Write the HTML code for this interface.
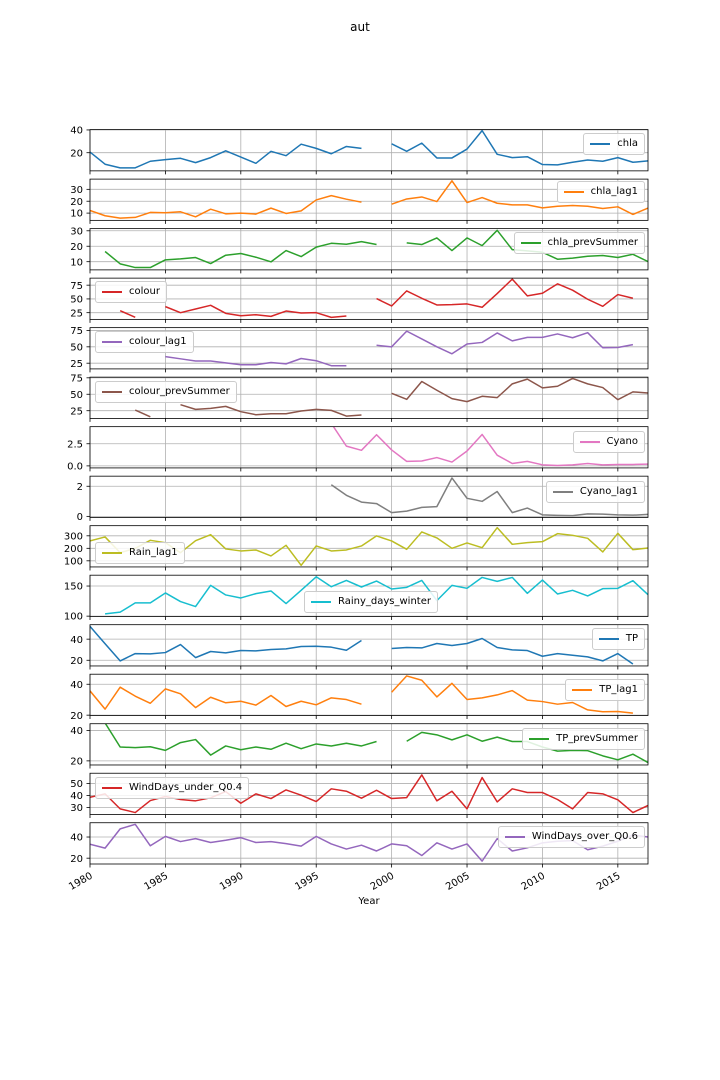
<!DOCTYPE html>
<html><head><meta charset="utf-8"><title>aut</title>
<style>
body{margin:0;background:#fff;}
#wrap{position:relative;width:720px;height:1080px;overflow:hidden;font-family:"DejaVu Sans","Liberation Sans",sans-serif;}
svg{position:absolute;left:0;top:0;}
.leg{position:absolute;background:rgba(255,255,255,0.85);border:1px solid #ccc;border-radius:3px;font-size:10px;color:#000;padding:4px 6px 4px 6px;white-space:nowrap;display:flex;align-items:center;height:12px;line-height:12px;}
.leg .sw{display:inline-block;width:20px;height:2px;margin-right:7px;}
</style></head>
<body>
<div id="wrap">
<svg id="chart" width="720" height="1080" xmlns="http://www.w3.org/2000/svg"></svg>
</div>
<script>
const years = [1980,1981,1982,1983,1984,1985,1986,1987,1988,1989,1990,1991,1992,1993,1994,1995,1996,1997,1998,1999,2000,2001,2002,2003,2004,2005,2006,2007,2008,2009,2010,2011,2012,2013,2014,2015,2016,2017];
const xTicks = [1980,1985,1990,1995,2000,2005,2010,2015];
const seriesNames = ["chla","chla_lag1","chla_prevSummer","colour","colour_lag1","colour_prevSummer","Cyano","Cyano_lag1","Rain_lag1","Rainy_days_winter","TP","TP_lag1","TP_prevSummer","WindDays_under_Q0.4","WindDays_over_Q0.6"];
const chla = [20.6,9.9,6.7,6.7,12.5,13.9,15.1,11.3,15.7,21.7,16.2,10.7,21.2,17.4,27.5,23.8,19.1,25.5,23.8,null,27.8,21.2,28.4,15.4,15.4,23.2,39.4,18.6,15.7,16.5,9.6,9.3,11.6,13.6,12.5,15.7,11.6,12.8];
const chla_lag1 = [12.2,7.8,5.8,6.4,10.6,10.3,11.1,6.9,13.3,9.4,10,9.2,14.2,9.7,11.9,21.1,24.7,21.7,19.2,null,17.5,21.9,23.6,19.7,37.2,18.9,23.1,18.3,16.9,16.9,14.4,15.8,16.4,15.8,13.9,15.3,8.9,14.2];
const chla_prevSummer = [null,16.6,8.6,6.2,6.2,11.2,11.8,12.7,8.8,14.2,15.3,12.9,9.9,17.2,13.3,19.4,21.9,21.3,23,21.1,null,22.2,21.1,25.4,17.2,25.4,20.4,30.3,17.8,17,16.1,11.6,12.3,13.5,14,12.7,14.8,10.1];
const colour = [null,null,28.7,16.5,null,36,25,31.7,38.4,23.8,19.5,21.3,18.3,28,24.4,25,16.5,18.9,null,50.6,37.2,64.6,51.2,39,39.6,40.9,34.8,59.8,86,55.5,60.4,77.4,65.9,49.4,36.6,57.9,51.2,null];
const colour_lag1 = [null,null,null,null,null,35.1,31.7,28.4,28.4,25.5,22.6,22.6,26,24,32.2,28.8,21.2,21.2,null,52.4,50,74,62,50,39.4,54.3,56.7,71.2,59.1,64.4,64.4,69.7,63.9,71.6,48.6,49,53.4,null];
const colour_prevSummer = [null,null,null,26,15.8,null,34.2,27,28.6,31.6,23.5,18.9,20.4,20.4,24.5,27,25.5,16.8,18.4,null,51.5,42.3,69.4,56.1,43.4,38.8,46.9,44.9,65.8,73,59.7,62.2,74,65.8,60.2,41.8,53.6,52];
const Cyano = [null,null,null,null,null,null,null,null,null,null,null,null,null,null,null,null,4.8,2.23,1.76,3.52,1.8,0.51,0.55,0.94,0.43,1.68,3.55,1.21,0.27,0.51,0.12,0.04,0.12,0.27,0.12,0.16,0.16,0.2];
const Cyano_lag1 = [null,null,null,null,null,null,null,null,null,null,null,null,null,null,null,null,2.1,1.4,0.95,0.85,0.25,0.35,0.6,0.65,2.55,1.2,1.0,1.65,0.25,0.55,0.1,0.07,0.05,0.17,0.15,0.1,0.08,0.13];
const Rain_lag1 = [259,291,165,200,264,245,165,261,309,195,179,187,139,224,64,219,179,187,219,299,259,192,331,283,200,243,205,365,232,245,253,317,304,280,171,320,189,203];
const Rainy_days_winter = [null,103.8,106.6,122,122,138.5,124.2,115.9,151.1,135.2,130.2,137.4,141.8,120.9,142.9,165.4,148.9,159.3,148.4,158.2,145.1,147.8,159.3,125.8,151.1,146.2,164.3,157.7,164.3,137.9,159.9,136.8,142.9,133.5,145.6,146.2,158.8,135.7];
const TP = [52.1,35.6,19.4,26.3,26,27.3,34.9,22.5,28.3,27,29.2,28.9,30.2,30.8,33,33.3,32.4,29.5,38.7,null,31.1,32.1,31.7,35.9,34,35.9,40.6,32.1,29.8,29.2,23.8,26.3,24.8,23.2,19.4,26.3,16.5,null];
const TP_lag1 = [35.7,23.9,38.1,32.3,27.7,37,33.8,24.9,31.6,28,29,26.5,32.7,25.6,29,26.7,31.2,30.1,27.1,null,34.8,45.4,42.6,31.8,40.6,30.1,31.2,33.1,35.9,29.7,28.8,27.1,28.2,23.4,22.2,22.4,21.3,null];
const TP_prevSummer = [null,44.9,29.1,28.7,29.3,26.9,32,34,23.8,29.8,27.3,29.1,27.6,31.6,28,31.1,29.8,31.6,29.8,32.7,null,32.9,38.7,37.1,33.8,37.1,32.9,35.6,32.7,32.7,29.1,26.4,26.9,26.7,23.3,20.7,24.4,18.9];
const WindDays_under = [38.6,41.4,28.9,25.8,35.8,39.2,36.7,35.6,38.1,43.3,33.6,41.4,37.5,44.7,40.3,35,45.6,43.6,37.8,44.4,37.5,38.3,57.2,35.6,43.6,28.9,55,34.7,45.6,42.5,42.5,36.7,28.9,42.5,41.4,36.4,25.8,31.7];
const WindDays_over = [33.2,29.5,47.7,52,31.7,40.6,35.7,38.5,34.8,36.9,39.4,34.8,35.7,33.8,31.4,40.6,33.5,28.6,32.3,26.8,33.5,31.7,22.5,34.5,28.6,33.5,17.2,38.5,26.8,29.8,34.5,36,36.6,28,31.4,36,42,40];
const yTickVals = [[20,40],[10,20,30],[10,20,30],[25,50,75],[25,50,75],[25,50,75],[0,2.5],[0,2],[100,200,300],[100,150],[20,40],[20,40],[20,40],[30,40,50],[20,40]];
const yTickLabels = [["20","40"],["10","20","30"],["10","20","30"],["25","50","75"],["25","50","75"],["25","50","75"],["0.0","2.5"],["0","2"],["100","200","300"],["100","150"],["20","40"],["20","40"],["20","40"],["30","40","50"],["20","40"]];
const yMins = [4.06,3.9,4.7,12.8,16.3,13.3,-0.23,-0.07,51,99.5,14.6,19.8,17.3,24.2,14.5];
const yMaxs = [40.3,38.6,31.4,87.8,79.3,76,4.43,2.67,381,168,53.7,46.5,44.4,58.6,53.5];

const seriesData = [chla,chla_lag1,chla_prevSummer,colour,colour_lag1,colour_prevSummer,Cyano,Cyano_lag1,Rain_lag1,Rainy_days_winter,TP,TP_lag1,TP_prevSummer,WindDays_under,WindDays_over];
const colors = ["#1f77b4","#ff7f0e","#2ca02c","#d62728","#9467bd","#8c564b","#e377c2","#7f7f7f","#bcbd22","#17becf","#1f77b4","#ff7f0e","#2ca02c","#d62728","#9467bd"];
// legend layout: [side, anchor-x, top]
const legPos = [["r",645,133],["r",645,181],["r",645,232],["l",95,281],["l",95,331],["l",95,381],["r",645,431],["r",645,481],["l",95,542],["l",304,591],["r",645,628],["r",645,679],["r",645,728],["l",95,777],["r",645,826]];

const NS = "http://www.w3.org/2000/svg";
const svg = document.getElementById("chart");
const wrap = document.getElementById("wrap");
const L = 90, R = 648, TOP = 129.6, BOT = 864;
const N = 15;
const H = (BOT - TOP) / (N + (N - 1) * 0.2);
const GAP = H * 0.2;
const xMin = 1980, xMax = 2017;
function xScale(v){ return L + (v - xMin) / (xMax - xMin) * (R - L); }
function mk(tag, attrs){ const e = document.createElementNS(NS, tag); for (const k in attrs) e.setAttribute(k, attrs[k]); return e; }

const defs = mk("defs", {});
svg.appendChild(defs);

const title = mk("text", {x: 360, y: 31, "text-anchor": "middle", "font-size": "12", "font-family": "DejaVu Sans, Liberation Sans, sans-serif"});
title.textContent = "aut";


svg.appendChild(title);

for (let i = 0; i < N; i++) {
  const top = TOP + i * (H + GAP);
  const bot = top + H;
  const y0 = yMins[i], y1 = yMaxs[i];
  const yScale = v => bot - (v - y0) / (y1 - y0) * H;
  const g = mk("g", {});
  
  
  svg.appendChild(g);
  const cp = mk("clipPath", {id: "cp" + i});
  cp.appendChild(mk("rect", {x: L, y: top, width: R - L, height: H}));
  defs.appendChild(cp);
  // grid x
  xTicks.forEach(t => {
    const x = xScale(t);
    const gl = mk("line", {x1: x, x2: x, y1: top, y2: bot, stroke: "#b0b0b0", "stroke-width": 0.8});
    
    
    g.appendChild(gl);
    const tk = mk("line", {x1: x, x2: x, y1: bot, y2: bot + 3.5, stroke: "#000", "stroke-width": 0.8});
    
    
    g.appendChild(tk);
  });
  // grid y + labels
  yTickVals[i].forEach((t, j) => {
    const y = yScale(t);
    const gl = mk("line", {x1: L, x2: R, y1: y, y2: y, stroke: "#b0b0b0", "stroke-width": 0.8});
    
    
    g.appendChild(gl);
    const tk = mk("line", {x1: L - 3.5, x2: L, y1: y, y2: y, stroke: "#000", "stroke-width": 0.8});
    
    
    g.appendChild(tk);
    const tl = mk("text", {x: L - 7, y: y + 3.6, "text-anchor": "end", "font-size": "10", "font-family": "DejaVu Sans, Liberation Sans, sans-serif"});
    tl.textContent = yTickLabels[i][j];
    
    
    g.appendChild(tl);
  });
  // series line
  const d = seriesData[i];
  let path = "", pen = false;
  for (let k = 0; k < years.length; k++) {
    if (d[k] === null) { pen = false; continue; }
    path += (pen ? "L" : "M") + xScale(years[k]).toFixed(2) + "," + yScale(d[k]).toFixed(2);
    pen = true;
  }
  const ln = mk("path", {d: path, fill: "none", stroke: colors[i], "stroke-width": 1.5, "clip-path": "url(#cp" + i + ")", "stroke-linejoin": "round"});
  
  
  g.appendChild(ln);
  // frame
  const fr = mk("rect", {x: L, y: top, width: R - L, height: H, fill: "none", stroke: "#000", "stroke-width": 0.8});
  
  
  g.appendChild(fr);
  // legend
  const lg = document.createElement("div");
  lg.className = "leg";
  
  
  const p = legPos[i];
  if (p[0] === "r") lg.style.right = (720 - p[1]) + "px"; else lg.style.left = p[1] + "px";
  lg.style.top = p[2] + "px";
  const sw = document.createElement("span");
  sw.className = "sw";
  sw.style.background = colors[i];
  
  
  const tx = document.createElement("span");
  tx.textContent = seriesNames[i];
  
  
  lg.appendChild(sw); lg.appendChild(tx);
  wrap.appendChild(lg);
}

// x tick labels on bottom
xTicks.forEach(t => {
  const x = xScale(t);
  const tl = mk("text", {x: x, y: 872, "text-anchor": "end", "font-size": "10", "font-family": "DejaVu Sans, Liberation Sans, sans-serif", transform: "rotate(-30 " + x + " 872)", "dominant-baseline": "hanging"});
  tl.textContent = String(t);
  
  
  svg.appendChild(tl);
});
const xl = mk("text", {x: 369, y: 904, "text-anchor": "middle", "font-size": "10", "font-family": "DejaVu Sans, Liberation Sans, sans-serif"});
xl.textContent = "Year";


svg.appendChild(xl);
</script>
</body></html>
